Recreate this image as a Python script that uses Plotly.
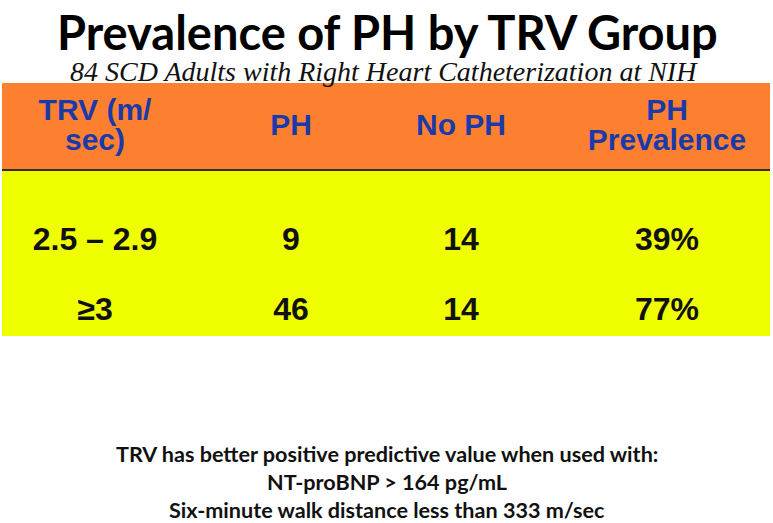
import plotly.graph_objects as go

# ---- data ----
title_text = "Prevalence of PH by TRV Group"
subtitle_text = "84 SCD Adults with Right Heart Catheterization at NIH"
header_lines = [["TRV (m/", "sec)"], ["PH"], ["No PH"], ["PH", "Prevalence"]]
trv_groups = ["2.5 – 2.9", "≥3"]
ph_counts = [9, 46]
no_ph_counts = [14, 14]
prevalence_pct = [39, 77]
footnote_lines = [
    "TRV has better positive predictive value when used with:",
    "NT-proBNP > 164 pg/mL",
    "Six-minute walk distance less than 333 m/sec",
]

# ---- layout (pixel space) ----
W, H = 773, 523
col_x = [95, 291, 461, 667]
header_y = 127
header_line_gap = 30
row_y = [242, 312]
header_top, header_bot = 83, 170
body_bot = 336

ORANGE = "#FD8030"
YELLOW = "#F0FF00"
BLUE = "#1A3AAA"

fig = go.Figure()

# header texts (each line placed around the header centre)
hx, hy, ht = [], [], []
for cx, lines in zip(col_x, header_lines):
    n = len(lines)
    for k, s in enumerate(lines):
        hx.append(cx)
        hy.append(header_y + (k - (n - 1) / 2) * header_line_gap)
        ht.append(s)
fig.add_trace(go.Scatter(
    x=hx, y=hy, mode="text", text=ht,
    textfont=dict(family="Liberation Sans, Arial", size=30, color=BLUE, weight="bold"),
    hoverinfo="skip", showlegend=False,
))

# body columns
columns = [
    trv_groups,
    [str(v) for v in ph_counts],
    [str(v) for v in no_ph_counts],
    [f"{v}%" for v in prevalence_pct],
]
for cx, vals in zip(col_x, columns):
    fig.add_trace(go.Scatter(
        x=[cx] * len(vals), y=row_y, mode="text", text=vals,
        textfont=dict(family="Liberation Sans Narrow, Liberation Sans, Arial", size=32,
                      color="#111111", weight="bold"),
        hoverinfo="skip", showlegend=False,
    ))

shapes = [
    dict(type="rect", xref="x", yref="y", x0=2, x1=770, y0=header_top, y1=header_bot,
         fillcolor=ORANGE, line=dict(width=0), layer="below"),
    dict(type="rect", xref="x", yref="y", x0=2, x1=770, y0=header_bot, y1=body_bot,
         fillcolor=YELLOW, line=dict(width=0), layer="below"),
    dict(type="line", xref="x", yref="y", x0=2, x1=770, y0=header_bot, y1=header_bot,
         line=dict(color="#3A2A10", width=2)),
]

annotations = [
    dict(x=387, y=32, xref="x", yref="y", text=title_text, showarrow=False,
         font=dict(family="Lato, Open Sans", size=47, color="#000000", weight="bold")),
    dict(x=384, y=71, xref="x", yref="y", text=f"<i>{subtitle_text}</i>", showarrow=False,
         font=dict(family="Liberation Serif, Times New Roman", size=28, color="#111111")),
]
for i, line in enumerate(footnote_lines):
    annotations.append(dict(
        x=387, y=454 + 28 * i, xref="x", yref="y", text=line, showarrow=False,
        font=dict(family="Lato, Open Sans", size=21.6, color="#111111", weight="bold")))

fig.update_layout(
    width=W, height=H,
    margin=dict(l=0, r=0, t=0, b=0),
    paper_bgcolor="white", plot_bgcolor="white",
    xaxis=dict(range=[0, W], visible=False, fixedrange=True),
    yaxis=dict(range=[H, 0], visible=False, fixedrange=True),
    shapes=shapes, annotations=annotations,
)

fig.write_html(
    "out.html",
    config={"displayModeBar": False, "staticPlot": True},
    post_script="document.body.style.margin='0';document.body.style.overflow='hidden';",
)
